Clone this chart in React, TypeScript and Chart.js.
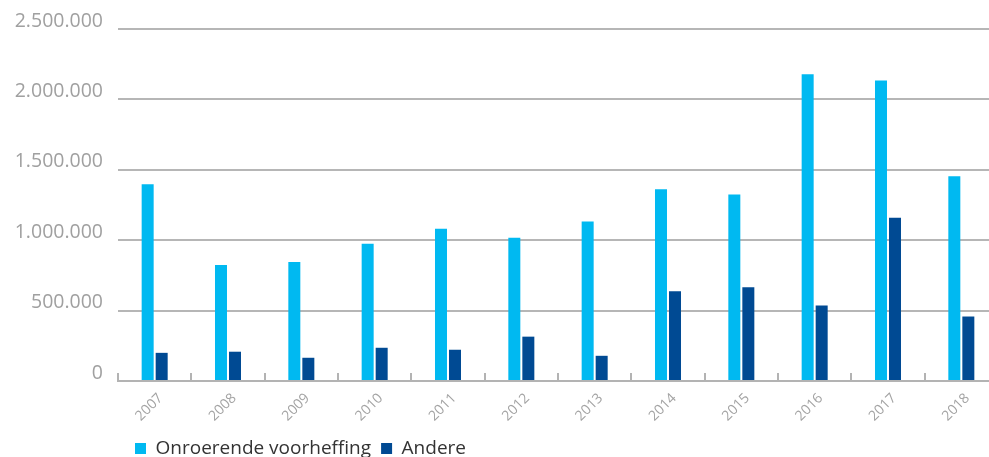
import React, { useEffect, useRef } from "react";
import { Chart, registerables } from "chart.js";

Chart.register(...registerables);

const years = ["2007", "2008", "2009", "2010", "2011", "2012", "2013", "2014", "2015", "2016", "2017", "2018"];
const onroerendeVoorheffing = [1397000, 824000, 845000, 974000, 1082000, 1017000, 1132000, 1361000, 1325000, 2178000, 2135000, 1454000];
const andere = [200000, 208000, 165000, 236000, 222000, 315000, 179000, 638000, 666000, 537000, 1160000, 458000];
const yMax = 2500000;
const yStep = 500000;

const fmt = (v: number) => String(Math.round(v)).replace(/\B(?=(\d{3})+(?!\d))/g, ".");

const upTicks = {
  id: "upTicks",
  afterDatasetsDraw(chart: any) {
    const xs = chart.scales.x;
    const ctx = chart.ctx;
    const n = xs.ticks.length;
    const bottom = chart.chartArea.bottom;
    ctx.save();
    ctx.strokeStyle = "#b3b3b3";
    ctx.lineWidth = 2;
    for (let i = 0; i <= n; i++) {
      const px = Math.round(xs.getPixelForValue(i - 0.5));
      ctx.beginPath();
      ctx.moveTo(px, bottom);
      ctx.lineTo(px, bottom - 8);
      ctx.stroke();
    }
    ctx.restore();
  },
};

const legendShift = {
  id: "legendShift",
  afterLayout(chart: any) {
    const lg = chart.legend;
    if (lg) {
      lg.left = chart.chartArea.left + 7;
    }
  },
};

export default function App() {
  const ref = useRef<HTMLCanvasElement | null>(null);
  useEffect(() => {
    if (!ref.current) return;
    const chart = new Chart(ref.current, {
      type: "bar",
      data: {
        labels: years,
        datasets: [
          {
            label: "Onroerende voorheffing",
            data: onroerendeVoorheffing,
            backgroundColor: "#00b9f1",
            categoryPercentage: 0.382,
            barPercentage: 0.857,
          },
          {
            label: "Andere",
            data: andere,
            backgroundColor: "#004a93",
            categoryPercentage: 0.382,
            barPercentage: 0.857,
          },
        ],
      },
      options: {
        animation: false,
        responsive: true,
        maintainAspectRatio: false,
        layout: { padding: { top: 29, left: 0, right: 0, bottom: 0 } },
        plugins: {
          tooltip: { enabled: false },
          legend: {
            position: "bottom",
            align: "start",
            labels: {
              boxWidth: 11,
              boxHeight: 11,
              padding: 10,
              color: "#333333",
              font: { family: "'Open Sans', sans-serif", size: 19 },
            },
          },
        },
        scales: {
          x: {
            afterFit: (s: any) => {
              s.height = 48;
            },
            grid: { display: true, drawOnChartArea: false, drawTicks: false, color: "rgba(0,0,0,0)" },
            border: { display: true, color: "#b3b3b3", width: 2 },
            ticks: {
              maxRotation: 45,
              minRotation: 45,
              padding: 9,
              labelOffset: 6,
              color: "#a3a3a3",
              font: { family: "'Open Sans', sans-serif", size: 14 },
            },
          },
          y: {
            min: 0,
            max: yMax,
            afterFit: (s: any) => {
              s.width = 118;
            },
            grid: { color: "#b6b6b6", lineWidth: 2, drawTicks: false },
            border: { display: false },
            ticks: {
              stepSize: yStep,
              padding: 15,
              labelOffset: -8,
              color: "#a0a0a0",
              font: { family: "'Open Sans', sans-serif", size: 19.5 },
              callback: (v: any) => fmt(Number(v)),
            },
          },
        },
      },
      plugins: [upTicks, legendShift],
    });
    return () => chart.destroy();
  }, []);
  return (
    <div style={{ position: "absolute", left: 0, top: 0, width: 989, height: 457, overflow: "hidden", background: "#fff" }}>
      <div style={{ position: "relative", width: 998, height: 468 }}>
        <canvas ref={ref} />
      </div>
    </div>
  );
}
